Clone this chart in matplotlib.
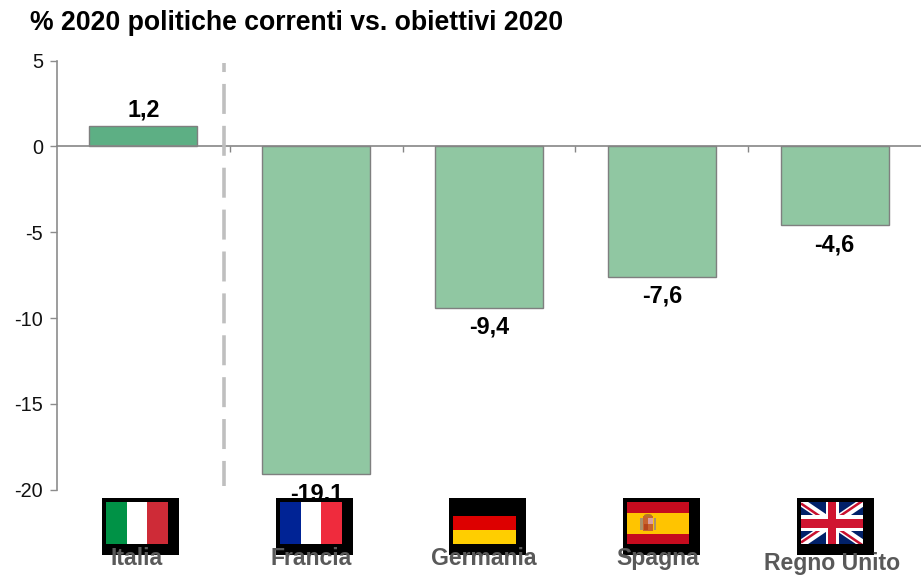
import matplotlib
matplotlib.use("Agg")
import matplotlib.pyplot as plt
from matplotlib.patches import Rectangle, Ellipse

plt.rcParams['font.family'] = ['Liberation Sans', 'DejaVu Sans']
plt.rcParams['axes.unicode_minus'] = False

categories = ["Italia", "Francia", "Germania", "Spagna", "Regno Unito"]
values = [1.2, -19.1, -9.4, -7.6, -4.6]
value_labels = ["1,2", "-19,1", "-9,4", "-7,6", "-4,6"]
title = "% 2020 politiche correnti vs. obiettivi 2020"
yticks = [5, 0, -5, -10, -15, -20]

W, H = 921, 575
fig = plt.figure(figsize=(W / 100, H / 100), dpi=100, facecolor="white")
ax = fig.add_axes([57 / W, 1 - 489.6 / H, (W - 57) / W, (489.6 - 60.6) / H])
ax.set_xlim(-0.5, 4.5)
ax.set_ylim(-20, 5)
ax.patch.set_alpha(0)

bar_colors = ["#5DAF84"] + ["#90C7A2"] * 4
ax.bar(range(5), values, width=0.625, color=bar_colors, edgecolor="#7F7F7F", linewidth=1.0, zorder=2)

for s in ["top", "right"]:
    ax.spines[s].set_visible(False)
ax.spines["left"].set_color("#8C8C8C")
ax.spines["left"].set_linewidth(1.2)
ax.spines["bottom"].set_position(("data", 0))
ax.spines["bottom"].set_color("#868686")
ax.spines["bottom"].set_linewidth(1.2)
ax.spines["bottom"].set_zorder(3)
ax.set_yticks(yticks)
ax.tick_params(axis="y", length=5, width=1.0, color="#8C8C8C", labelsize=14.3, pad=5, labelcolor="#111111")
ax.set_xticks([0.5, 1.5, 2.5, 3.5])
ax.tick_params(axis="x", length=4, width=1.0, color="#868686", labelbottom=False)

for i, (v, lab) in enumerate(zip(values, value_labels)):
    off = 11.5 if v > 0 else -14
    ax.annotate(lab, (i, v), xytext=(0, off), textcoords="offset points",
                ha="center", va="center", fontsize=16.8, fontweight="bold",
                color="black", annotation_clip=False, zorder=4)

# separator between Italy and the other countries
ax.plot([0.466, 0.466], [4.85, -19.8], color="#BFBFBF", lw=2.6, zorder=5,
        linestyle=(5.8, (8.3, 3.3)), dash_capstyle="butt", clip_on=False)

fig.text(30 / W, 1 - 23.5 / H, title, fontsize=19.2, fontweight="bold", color="black",
         ha="left", va="center")

# overlay in pixel coordinates for flags and country names
ov = fig.add_axes([0, 0, 1, 1], zorder=10)
ov.set_xlim(0, W)
ov.set_ylim(H, 0)
ov.axis("off")

label_x = [136.5, 311, 484, 658, 832]
label_y = [558.5, 558.5, 558.5, 558.5, 563.5]
for x, y, c in zip(label_x, label_y, categories):
    ov.text(x, y, c, ha="center", va="center", fontsize=16.6, fontweight="bold", color="#595959")

box_x = [102, 276, 449, 623, 797]


def rect(x, y, w, h, c, z=2):
    ov.add_patch(Rectangle((x, y), w, h, facecolor=c, edgecolor="none", zorder=z))


def vertical(x, cols):
    for k, c in enumerate(cols):
        rect(x + k * 62 / 3, 502, 62 / 3 + 0.3, 42, c)


def spain(x):
    rect(x, 502, 62, 42, "#C60B1E")
    rect(x, 512.5, 62, 21, "#FFC400")
    rect(x + 13, 518, 2.5, 12, "#A9926A", 3)
    rect(x + 26.5, 518, 2.5, 12, "#A9926A", 3)
    rect(x + 16, 516, 10, 15, "#C8642D", 3)
    rect(x + 21, 518, 5, 6, "#D9A0A0", 4)
    rect(x + 16.5, 524, 4.5, 6, "#B5451B", 4)
    ov.add_patch(Ellipse((x + 21, 515.5), 8, 3, facecolor="#B5762A", edgecolor="none", zorder=4))


def uk(x):
    y0, w, h = 502, 62, 42
    clip = Rectangle((x, y0), w, h, transform=ov.transData)
    rect(x, y0, w, h, "#012169")
    for p, lw, c in [([(x, y0), (x + w, y0 + h)], 8, "white"), ([(x, y0 + h), (x + w, y0)], 8, "white"),
                     ([(x, y0 + 1.5), (x + w, y0 + h + 1.5)], 2.5, "#C8102E"),
                     ([(x, y0 + h - 1.5), (x + w, y0 - 1.5)], 2.5, "#C8102E")]:
        line, = ov.plot([p[0][0], p[1][0]], [p[0][1], p[1][1]], color=c, lw=lw * 0.72, zorder=3, solid_capstyle="butt")
        line.set_clip_path(clip)
    rect(x + w / 2 - 6.5, y0, 13, h, "white", 4)
    rect(x, y0 + h / 2 - 8, w, 16, "white", 4)
    rect(x + w / 2 - 4, y0, 8, h, "#D01530", 5)
    rect(x, y0 + h / 2 - 4.5, w, 9, "#D01530", 5)


for bx in box_x:
    rect(bx, 498, 77, 57, "black", 1)
fx = [b + 4 for b in box_x]
vertical(fx[0], ["#009246", "white", "#CE2B37"])
vertical(fx[1], ["#002395", "white", "#EF2B3D"])
rect(fx[2], 516, 63, 14, "#DD0000")
rect(fx[2], 530, 63, 14, "#FFCE00")
spain(fx[3])
uk(fx[4])
ov.set_xlim(0, W)
ov.set_ylim(H, 0)

fig.savefig("out.png", dpi=100)
